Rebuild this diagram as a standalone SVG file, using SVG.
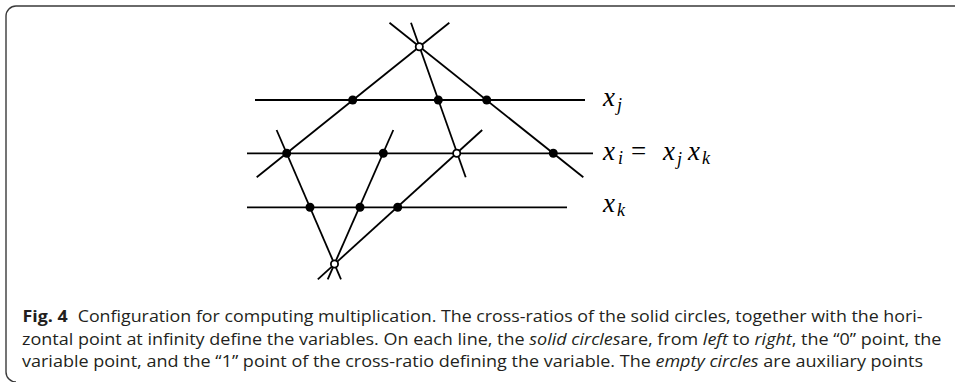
<svg xmlns="http://www.w3.org/2000/svg" width="955" height="382" viewBox="0 0 955 382">
<style>
.frame{fill:none;stroke:#3a3a3a;stroke-width:1.4}
.ln{stroke:#000;stroke-width:1.8;fill:none;stroke-linecap:butt}
.dot{fill:#000}
.open{fill:#fff;stroke:#000;stroke-width:1.8}
.cap{font-family:"Open Sans","Noto Sans","Liberation Sans",sans-serif;font-size:16px;fill:#231f20}
.b{font-weight:bold}
.i{font-style:italic}
</style>
<rect width="955" height="382" fill="#fff"/>
<path class="frame" d="M955,6 H16 A10,10 0 0 0 6,16 V372 A10,10 0 0 0 16,382"/>
<g id="connectors">
  <line class="ln" x1="255" y1="100" x2="585" y2="100"/>
  <line class="ln" x1="247" y1="153.3" x2="593" y2="153.3"/>
  <line class="ln" x1="247" y1="207.3" x2="567" y2="207.3"/>
  <line class="ln" x1="449.3" y1="22.7" x2="256.7" y2="177.3"/>
  <line class="ln" x1="411" y1="22.7" x2="465.7" y2="177.3"/>
  <line class="ln" x1="389.5" y1="22.7" x2="583.3" y2="177.3"/>
  <line class="ln" x1="276.6" y1="130" x2="341" y2="279.3"/>
  <line class="ln" x1="393.3" y1="130" x2="327.7" y2="279.3"/>
  <line class="ln" x1="482.2" y1="130" x2="317.8" y2="279.3"/>
</g>
<g id="top"><circle class="open" cx="419.3" cy="46.7" r="3.6"/></g>
<g id="j0"><circle class="dot" cx="352.7" cy="100" r="4.5"/></g>
<g id="j1"><circle class="dot" cx="438.3" cy="100" r="4.5"/></g>
<g id="j2"><circle class="dot" cx="486.7" cy="100" r="4.5"/></g>
<g id="i0"><circle class="dot" cx="286.7" cy="153.3" r="4.5"/></g>
<g id="i1"><circle class="dot" cx="383.3" cy="153.3" r="4.5"/></g>
<g id="iaux"><circle class="open" cx="456.7" cy="153.3" r="3.6"/></g>
<g id="i2"><circle class="dot" cx="553.3" cy="153.3" r="4.5"/></g>
<g id="k0"><circle class="dot" cx="310" cy="207.3" r="4.5"/></g>
<g id="k1"><circle class="dot" cx="360" cy="207.3" r="4.5"/></g>
<g id="k2"><circle class="dot" cx="397.7" cy="207.3" r="4.5"/></g>
<g id="bottom"><circle class="open" cx="334.5" cy="264" r="3.6"/></g>
<g id="labels" font-family="Liberation Serif, serif" font-style="italic" fill="#000">
  <text x="603" y="106" font-size="27">x</text><text x="617" y="111" font-size="18">j</text>
  <text x="603" y="160" font-size="27">x</text><text x="618" y="164" font-size="18">i</text>
  <text x="631" y="160" font-size="27" font-style="normal">=</text>
  <text x="663" y="160" font-size="27">x</text><text x="677" y="165" font-size="18">j</text>
  <text x="688" y="160" font-size="27">x</text><text x="702" y="164" font-size="18">k</text>
  <text x="603" y="212" font-size="27">x</text><text x="617" y="216" font-size="18">k</text>
</g>
<g id="caption">
  <text class="cap" x="22.5" y="322" textLength="900" lengthAdjust="spacingAndGlyphs"><tspan class="b">Fig. 4</tspan><tspan dx="9">Configuration for computing multiplication. The cross-ratios of the solid circles, together with the hori-</tspan></text>
  <text class="cap" x="22" y="344.5" textLength="919.5" lengthAdjust="spacingAndGlyphs">zontal point at infinity define the variables. On each line, the <tspan class="i">solid circles</tspan>are, from <tspan class="i">left</tspan> to <tspan class="i">right</tspan>, the “0” point, the</text>
  <text class="cap" x="22" y="367" textLength="901" lengthAdjust="spacingAndGlyphs">variable point, and the “1” point of the cross-ratio defining the variable. The <tspan class="i">empty circles</tspan> are auxiliary points</text>
</g>
</svg>
